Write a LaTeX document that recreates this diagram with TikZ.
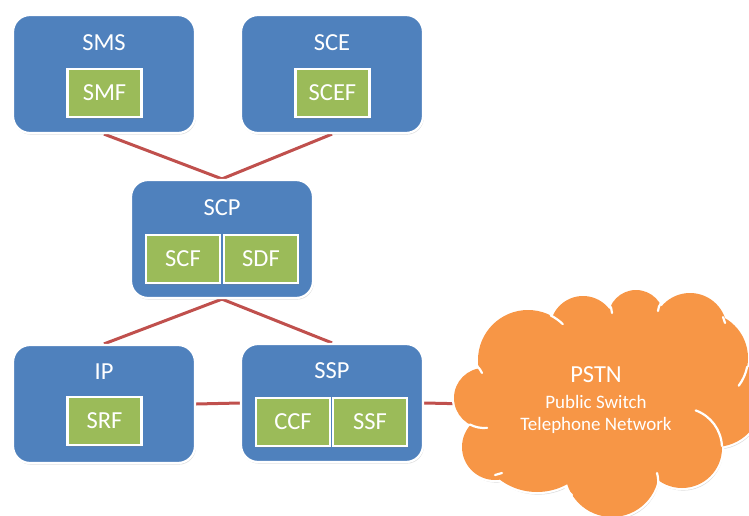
\documentclass[tikz,border=0pt]{standalone}
\usepackage{fontspec}
\setmainfont{Carlito}
\usetikzlibrary{shadows,backgrounds}
\definecolor{boxblue}{HTML}{4F81BD}
\definecolor{fngreen}{HTML}{9BBB59}
\definecolor{linkred}{HTML}{C0504D}
\definecolor{cloudorange}{HTML}{F79646}
% puffs of the PSTN cloud (centre, radius in px)
\newcommand{\pstnpuffs}{
  (484,398) circle[radius=30]
  (528,360) circle[radius=50]
  (583,329) circle[radius=33]
  (636,318) circle[radius=28]
  (690,330) circle[radius=37]
  (702,358) circle[radius=46]
  (715,400) circle[radius=47]
  (682,448) circle[radius=40]
  (612,470) circle[radius=47]
  (537,430) circle[radius=62]
  (495,447) circle[radius=33]}
\tikzset{
  unitbox/.style={draw=white, line width=2.2pt, fill=boxblue, rounded corners=17pt,
    minimum width=182pt, minimum height=118pt, inner sep=0pt,
    drop shadow={opacity=0.25, shadow xshift=0.8pt, shadow yshift=-1.6pt}},
  funcbox/.style={draw=white, line width=2.2pt, fill=fngreen,
    minimum width=74pt, minimum height=48pt, inner sep=0pt, text=white,
    font=\fontsize{24.5}{28}\selectfont,
    drop shadow={opacity=0.3, shadow xshift=0.8pt, shadow yshift=-1.6pt}},
  unittitle/.style={text=white, font=\fontsize{24.5}{28}\selectfont, inner sep=0pt},
  link/.style={draw=linkred, line width=3pt},
  puffseam/.style={draw=white, line width=2.2pt, line cap=round}
}
\begin{document}
\begin{tikzpicture}[x=1pt,y=-1pt]
\useasboundingbox (0,0) rectangle (749,516);

% service management and creation
\node[unitbox] (sms) at (104,74) {};
\node[unittitle] (smsT) at (104,43) {SMS};
\node[funcbox] (smf) at (104.5,93) {SMF};

\node[unitbox] (sce) at (332,74) {};
\node[unittitle] (sceT) at (332,43) {SCE};
\node[funcbox] (scef) at (332.5,93) {SCEF};

% service control point
\node[unitbox] (scp) at (222,239) {};
\node[unittitle] (scpT) at (222,208) {SCP};
\node[funcbox] (scf) at (183,259) {SCF};
\node[funcbox] (sdf) at (261,259) {SDF};

% intelligent peripheral and switching point
\node[unitbox] (ip) at (104,404) {};
\node[unittitle] (ipT) at (104,372) {IP};
\node[funcbox] (srf) at (104.5,421) {SRF};

\node[unitbox] (ssp) at (332,403) {};
\node[unittitle] (sspT) at (332,371) {SSP};
\node[funcbox] (ccf) at (293,422) {CCF};
\node[funcbox] (ssf) at (370,422) {SSF};

% public network cloud: shadow, white rim, orange body
\fill[black!14, shift={(1.2,2.6)}] \pstnpuffs;
\draw[white, line width=4.4pt] \pstnpuffs;
\fill[cloudorange] \pstnpuffs (600,400) ellipse[x radius=120, y radius=85];
% seams between the puffs
\draw[puffseam] (477,366) to[bend left=10] (482,373);
\draw[puffseam] (528,360) ++(-63:50) arc[start angle=-63, end angle=-46, radius=50];
\draw[puffseam] (609,304) to[bend left=15] (612,313);
\draw[puffseam] (661,303) to[bend right=15] (658,311);
\draw[puffseam] (723,317) to[bend left=10] (725,323);
\draw[puffseam] (702,358) ++(11:46) arc[start angle=11, end angle=37, radius=46];
\draw[puffseam] (682,448) ++(-70:40) arc[start angle=-70, end angle=-3, radius=40];
\draw[puffseam] (657,473) to[bend left=10] (658,485);
\draw[puffseam] (565,487) to[bend right=10] (572,495);
\draw[puffseam] (495,475) to[bend left=10] (502,473);
\draw[puffseam] (484,398) ++(118:30) arc[start angle=118, end angle=84, radius=30];
\coordinate (pstnedge) at (470,404);

\node[text=white, inner sep=0pt, font=\fontsize{24.5}{28}\selectfont] (pstnT) at (596,375) {PSTN};
\node[text=white, inner sep=0pt, font=\fontsize{19}{22}\selectfont] (pstnS1) at (596,402) {Public Switch};
\node[text=white, inner sep=0pt, font=\fontsize{19}{22}\selectfont] (pstnS2) at (596,425) {Telephone Network};

\begin{pgfonlayer}{background}
  \fill[white] (0,0) rectangle (749,516);
  \draw[link] (sms.south) -- (scp.north);
  \draw[link] (sce.south) -- (scp.north);
  \draw[link] (scp.south) -- (ip.north);
  \draw[link] (scp.south) -- (ssp.north);
  \draw[link] (ip.east) -- (ssp.west);
  \draw[link] (ssp.east) -- (pstnedge);
\end{pgfonlayer}
\end{tikzpicture}
\end{document}
